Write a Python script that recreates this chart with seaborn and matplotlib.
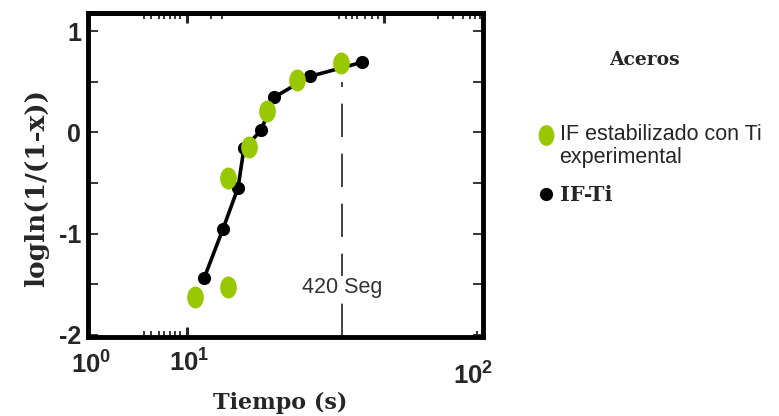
import matplotlib
matplotlib.use("Agg")
import matplotlib.pyplot as plt
import seaborn as sns
import pandas as pd
from matplotlib.path import Path
from matplotlib.transforms import Affine2D
from matplotlib.lines import Line2D
from matplotlib.legend_handler import HandlerLine2D

# IF-Ti (model curve, black)
t_ifti = [3.87, 4.83, 5.75, 6.16, 7.52, 8.74, 13.3, 24.4]
y_ifti = [-1.44, -0.95, -0.545, -0.158, 0.02, 0.347, 0.554, 0.693]

# IF estabilizado con Ti, experimental (green)
t_exp = [3.48, 5.11, 5.11, 6.53, 8.06, 11.4, 19.1]
y_exp = [-1.62, -1.525, -0.446, -0.139, 0.208, 0.515, 0.683]

# reference time marker
t_mark = 19.3
mark_label = "420 Seg"

x_tick_labels = [r"$\mathbf{10^{0}}$", r"$\mathbf{10^{1}}$", r"$\mathbf{10^{2}}$"]
y_tick_values = [-2, -1.5, -1, -0.5, 0, 0.5, 1]
legend_title = "Aceros"
label_exp = "IF estabilizado con Ti\nexperimental"
label_ifti = "IF-Ti"

GREEN = "#98C800"

sns.set_style("white")
plt.rcParams["font.family"] = ["Liberation Sans", "DejaVu Sans"]
plt.rcParams["mathtext.fontset"] = "custom"
plt.rcParams["mathtext.rm"] = "Liberation Sans"
plt.rcParams["mathtext.it"] = "Liberation Sans"
plt.rcParams["mathtext.bf"] = "Liberation Sans:bold"


class RaisedMarkerHandler(HandlerLine2D):
    """Puts the legend marker level with the first line of a two-line label."""

    def __init__(self, raise_by, **kw):
        super().__init__(**kw)
        self.raise_by = raise_by

    def create_artists(self, legend, orig_handle, xdescent, ydescent, width,
                       height, fontsize, trans):
        return super().create_artists(legend, orig_handle, xdescent,
                                      ydescent - 2 * self.raise_by * fontsize,
                                      width, height, fontsize, trans)


df_ifti = pd.DataFrame({"t": t_ifti, "y": y_ifti})
df_exp = pd.DataFrame({"t": t_exp, "y": y_exp})

# tall ellipse marker for the experimental points
ellipse = Path.unit_circle().transformed(Affine2D().scale(0.76, 1.0))

fig = plt.figure(figsize=(7.79, 4.16), dpi=100)
ax = fig.add_axes([88 / 779, 1 - 337 / 416, (483 - 88) / 779, (337 - 13) / 416])
ax.set_xscale("log")

sns.lineplot(data=df_ifti, x="t", y="y", ax=ax, color="black", linewidth=2.6,
             marker="o", markersize=9.5, markeredgewidth=0, sort=False, zorder=3)
sns.scatterplot(data=df_exp, x="t", y="y", ax=ax, color=GREEN, marker=ellipse,
                s=250, linewidth=0, zorder=4)

ax.axvline(t_mark, ymin=0, ymax=(0.5 + 2.02) / 3.2, color="#222222",
           linewidth=1.2, dashes=(20, 10), zorder=2)
ax.text(t_mark, -1.53, mark_label, ha="center", va="center", fontsize=15.5,
        color="#333333", zorder=5,
        bbox=dict(facecolor="white", edgecolor="none", pad=1.0))

ax.set_xlim(1, 100)
ax.set_ylim(-2.02, 1.18)

# x ticks (inward, top and bottom)
ax.set_xticks([3.17])
ax.set_xticks([1.921, 2.084, 2.288, 2.427, 2.601, 2.758, 2.923, 93.3], minor=True)
ax.set_xticklabels([])
ax.set_xticklabels([], minor=True)
ax.tick_params(axis="x", which="major", direction="in", length=7, width=2.2,
               bottom=True, top=False)
ax.tick_params(axis="x", which="minor", direction="in", length=4.5, width=1.3,
               bottom=True, top=False)

top = ax.secondary_xaxis("top")
top.set_xticks([3.17, 31.5])
top.set_xticks([1.921, 2.084, 2.288, 2.427, 2.601, 2.758, 2.923, 4.2, 4.77,
                18.7, 20.2, 21.7, 23.0, 25.3, 27.4, 29.4, 59.2, 70.5, 79.2,
                85.9, 91.1, 96.6], minor=True)
top.set_xticklabels([])
top.set_xticklabels([], minor=True)
top.tick_params(axis="x", which="major", direction="in", length=7, width=2.2)
top.tick_params(axis="x", which="minor", direction="in", length=4.5, width=1.3)
top.spines["top"].set_linewidth(3.5)

# y ticks
ax.set_yticks(y_tick_values)
ax.set_yticklabels([f"{v:g}" if float(v).is_integer() else "" for v in y_tick_values])
ax.tick_params(axis="y", direction="in", length=7, width=1.3, left=True, right=True,
               labelsize=18, pad=5)
for lab in ax.get_yticklabels():
    lab.set_fontweight("bold")

for sp in ax.spines.values():
    sp.set_linewidth(3.5)
    sp.set_color("black")

ax.set_xlabel("")
ax.set_ylabel("")

# decade labels under the axis
for (px, py), lab in zip([(91, 365), (189, 363), (473, 376)], x_tick_labels):
    fig.text(px / 779, 1 - py / 416, lab, ha="center", va="center", fontsize=18.5)

fig.text(280 / 779, 1 - 403 / 416, "Tiempo (s)", ha="center", va="center",
         fontsize=16, fontweight="bold", family="DejaVu Serif")
fig.text(37 / 779, 1 - 188 / 416, "logln(1/(1-x))", ha="center", va="center",
         rotation=90, fontsize=19, fontweight="bold", family="DejaVu Serif")

fig.text(644 / 779, 1 - 60 / 416, legend_title, ha="center", va="center",
         fontsize=13.5, fontweight="bold", family="DejaVu Serif")

handles = [
    Line2D([], [], linestyle="none", marker=ellipse, markersize=15,
           markerfacecolor=GREEN, markeredgewidth=0),
    Line2D([], [], linestyle="none", marker="o", markersize=9.5,
           markerfacecolor="black", markeredgewidth=0),
]
leg = fig.legend(handles, [label_exp, label_ifti], loc="upper left",
                 bbox_to_anchor=(538 / 779, 1 - 124 / 416), frameon=False,
                 handlelength=0.7, handletextpad=0.3, labelspacing=0.8,
                 fontsize=15.5, borderpad=0, borderaxespad=0,
                 handler_map={handles[0]: RaisedMarkerHandler(0.55)})
txts = leg.get_texts()
txts[0].set_linespacing(1.12)
txts[1].set_fontfamily("DejaVu Serif")
txts[1].set_fontweight("bold")
txts[1].set_fontsize(15)

fig.savefig("out.png", dpi=100)
